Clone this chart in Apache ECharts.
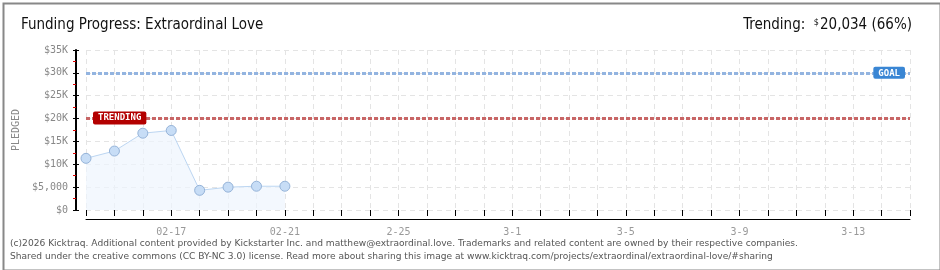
<!DOCTYPE html>
<html><head><meta charset="utf-8">
<script src="https://cdn.jsdelivr.net/npm/echarts@6/dist/echarts.min.js"></script>
<style>html,body{margin:0;padding:0;background:#fff}#c{width:940px;height:270px}</style>
</head><body><div id="c"></div>
<script>
const days = ['02-14','02-15','02-16','02-17','02-18','02-19','02-20','02-21','02-22','02-23','02-24','2-25','2-26','2-27','2-28','3-1','3-2','3-3','3-4','3-5','3-6','3-7','3-8','3-9','3-10','3-11','3-12','3-13','3-14','3-15'];
const pledged = [11300, 12900, 16800, 17400, 4300, 5000, 5200, 5200];
const goal = 30000;
const trending = 20000;
const yTicks = {0:'$0', 5000:'$5,000', 10000:'$10K', 15000:'$15K', 20000:'$20K', 25000:'$25K', 30000:'$30K', 35000:'$35K'};

const chart = echarts.init(document.getElementById('c'), null, {renderer:'canvas'});
const axisFont = 'DejaVu Sans Mono';
const titleFont = 'Liberation Sans Narrow, DejaVu Sans Condensed, sans-serif';
const hidden = {axisLine:{show:false, onZero:false}, axisLabel:{show:false}, splitLine:{show:false}};
chart.setOption({
  animation:false,
  backgroundColor:'#fff',
  title:[
    {text:'Funding Progress: Extraordinal Love', left:16, top:13,
     textStyle:{fontFamily:titleFont, fontSize:15, fontWeight:'normal', color:'#111'}},
    {text:'{a|Trending:  }{s|$}{a|20,034 (66%)}', right:23, top:13,
     textStyle:{fontWeight:'normal', rich:{
       a:{fontFamily:titleFont, fontSize:15, fontWeight:'normal', color:'#111'},
       s:{fontFamily:titleFont, fontSize:9, fontWeight:'normal', color:'#111', verticalAlign:'top', padding:[0,1,6,0]}
     }}}
  ],
  grid:{left:86, right:30, top:50, bottom:60},
  xAxis:[{
    type:'category', data:days, boundaryGap:false, offset:9,
    axisLine:{onZero:false, lineStyle:{color:'#000', width:1}},
    axisTick:{show:false},
    axisLabel:{interval:(i)=> (i-3)%4===0, color:'#999', fontFamily:axisFont, fontSize:10, margin:8},
    splitLine:{show:true, interval:0, lineStyle:{color:'#e4e4e4', type:[5,4]}}
  },Object.assign({
    type:'category', data:days, boundaryGap:false, offset:6, position:'bottom',
    axisTick:{interval:0, inside:true, length:6, lineStyle:{color:'#000', width:1}}
  }, hidden)],
  yAxis:[{
    type:'value', min:0, max:35000, interval:5000, offset:10,
    name:'PLEDGED', nameLocation:'middle', nameGap:50, nameRotate:90,
    nameTextStyle:{color:'#888', fontFamily:axisFont, fontSize:10},
    axisLine:{show:true, onZero:false, lineStyle:{color:'#000', width:2}},
    axisTick:{show:false},
    axisLabel:{formatter:(v)=>yTicks[v]!==undefined?yTicks[v]:'', color:'#888', fontFamily:axisFont, fontSize:10, margin:8},
    splitLine:{show:true, lineStyle:{color:'#e4e4e4', type:[5,4]}}
  },Object.assign({
    type:'value', min:0, max:35000, interval:2500, offset:13, position:'left',
    axisTick:{show:true, inside:true, length:3, lineStyle:{color:'#e00000', width:1}}
  }, hidden),Object.assign({
    type:'value', min:0, max:35000, interval:5000, offset:13, position:'left',
    axisTick:{show:true, inside:true, length:6, lineStyle:{color:'#000', width:1}}
  }, hidden)],
  series:[{
    type:'line', data:pledged, symbol:'circle', symbolSize:10,
    lineStyle:{color:'#bcd6f2', width:1},
    itemStyle:{color:'#c7ddf6', borderColor:'#95b3d8', borderWidth:1},
    areaStyle:{color:'#eef5fd'},
    markLine:{
      silent:true, symbol:'none',
      data:[
        {yAxis:goal, lineStyle:{color:'#93b4e0', width:3, type:[4,2]},
         label:{show:true, position:'insideEndTop', formatter:'GOAL', backgroundColor:'#3a86d4', color:'#fff',
                fontFamily:axisFont, fontSize:9, fontWeight:'bold', padding:[2,5,1,5], borderRadius:2, distance:[5,-6]}},
        {yAxis:trending, lineStyle:{color:'#c86666', width:3, type:[4,2]},
         label:{show:true, position:'insideStartTop', formatter:'TRENDING', backgroundColor:'#b30000', color:'#fff',
                fontFamily:axisFont, fontSize:9, fontWeight:'bold', padding:[2,5,2,5], borderRadius:2, distance:[7,-6]}}
      ]
    }
  }],
  graphic:[
    {type:'text', left:10, top:239, style:{text:'(c)2026 Kicktraq. Additional content provided by Kickstarter Inc. and matthew@extraordinal.love. Trademarks and related content are owned by their respective companies.', font:'9.1px DejaVu Sans', fill:'#555'}},
    {type:'text', left:10, top:252, style:{text:'Shared under the creative commons (CC BY-NC 3.0) license. Read more about sharing this image at www.kicktraq.com/projects/extraordinal/extraordinal-love/#sharing', font:'9.1px DejaVu Sans', fill:'#555'}},
    {type:'rect', left:1, top:1, shape:{width:937, height:267}, style:{fill:'none', stroke:'#888', lineWidth:2}, silent:true}
  ]
});
</script></body></html>
